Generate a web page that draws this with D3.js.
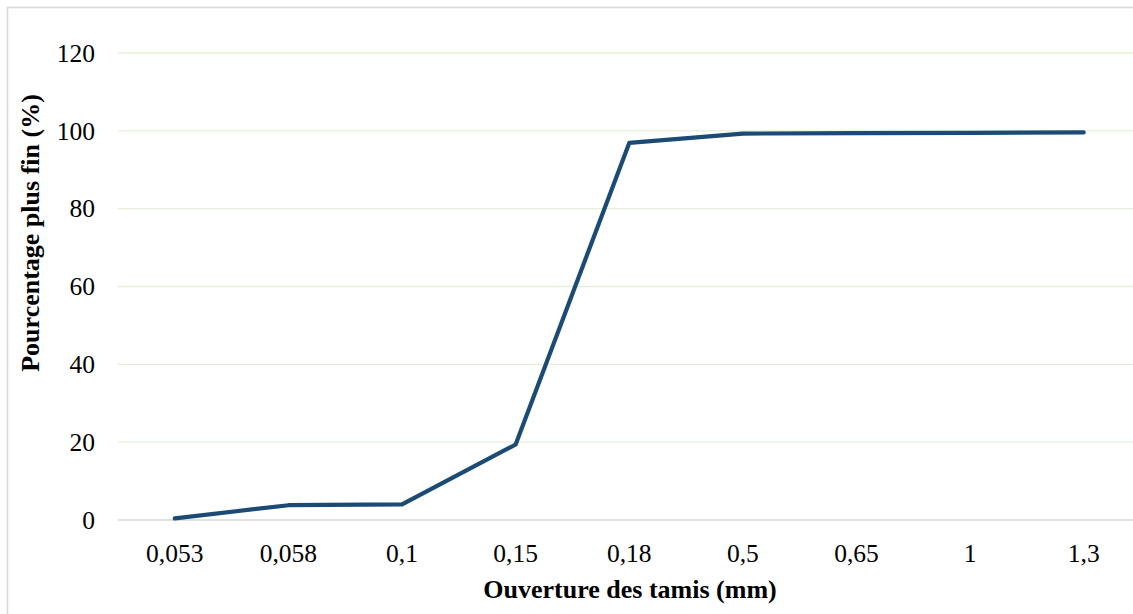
<!DOCTYPE html>
<html>
<head>
<meta charset="utf-8">
<script src="https://cdn.jsdelivr.net/npm/d3@7"></script>
<style>
  html, body { margin: 0; padding: 0; background: #fff; overflow: hidden; }
  svg { display: block; font-family: "Liberation Serif", "Times New Roman", serif; }
</style>
</head>
<body>
<svg id="chart" width="1133" height="614"></svg>
<script>
// Sieve opening (mm) and cumulative percentage passing
const sieveLabels = ["0,053", "0,058", "0,1", "0,15", "0,18", "0,5", "0,65", "1", "1,3"];
const percentFiner = [0.4, 3.8, 4.0, 19.4, 96.9, 99.3, 99.4, 99.5, 99.6];
const yTicks = [0, 20, 40, 60, 80, 100, 120];

const svg = d3.select("#chart");

// Chart frame (extends past the right and bottom edges of the view)
svg.append("rect")
  .attr("x", 7.5).attr("y", 7.5)
  .attr("width", 1160).attr("height", 640)
  .attr("fill", "#fff")
  .attr("stroke", "#d9d9d9")
  .attr("stroke-width", 1.6);

const plot = { left: 118, right: 1140.5, top: 53, bottom: 520 };

const x = d3.scaleBand()
  .domain(sieveLabels)
  .range([plot.left, plot.right]);

const y = d3.scaleLinear()
  .domain([0, 120])
  .range([plot.bottom, plot.top]);

// Horizontal gridlines
svg.append("g")
  .selectAll("line")
  .data(yTicks.filter(d => d > 0))
  .join("line")
  .attr("x1", plot.left).attr("x2", plot.right)
  .attr("y1", d => y(d)).attr("y2", d => y(d))
  .attr("stroke", "#e4efd8")
  .attr("stroke-width", 1.3);

// Category axis baseline
svg.append("line")
  .attr("x1", plot.left).attr("x2", plot.right)
  .attr("y1", y(0)).attr("y2", y(0))
  .attr("stroke", "#d9d9d9")
  .attr("stroke-width", 1.6);

// Y axis tick labels
const yAxis = d3.axisLeft(y).tickValues(yTicks).tickSize(0).tickPadding(0).tickFormat(d3.format("d"));
svg.append("g")
  .attr("transform", "translate(95,0)")
  .call(yAxis)
  .call(g => g.select(".domain").remove())
  .call(g => g.selectAll("text")
    .attr("font-family", "Liberation Serif, Times New Roman, serif")
    .attr("font-size", 25.5)
    .attr("fill", "#000"));

// X axis tick labels
const xAxis = d3.axisBottom(x).tickSize(0).tickPadding(0);
svg.append("g")
  .attr("transform", `translate(0,${y(0) + 24})`)
  .call(xAxis)
  .call(g => g.select(".domain").remove())
  .call(g => g.selectAll("text")
    .attr("font-family", "Liberation Serif, Times New Roman, serif")
    .attr("font-size", 25.5)
    .attr("fill", "#000"));

// Grading curve
const line = d3.line()
  .x((d, i) => x(sieveLabels[i]) + x.bandwidth() / 2)
  .y(d => y(d));

svg.append("path")
  .datum(percentFiner)
  .attr("d", line)
  .attr("fill", "none")
  .attr("stroke", "#1b4a74")
  .attr("stroke-width", 4.2)
  .attr("stroke-linejoin", "round")
  .attr("stroke-linecap", "round");

// Axis titles
svg.append("text")
  .attr("x", 630).attr("y", 598)
  .attr("text-anchor", "middle")
  .attr("font-size", 26)
  .attr("font-weight", "bold")
  .text("Ouverture des tamis (mm)");

svg.append("text")
  .attr("transform", "translate(39,233) rotate(-90)")
  .attr("text-anchor", "middle")
  .attr("font-size", 26)
  .attr("font-weight", "bold")
  .text("Pourcentage plus fin (%)");
</script>
</body>
</html>
